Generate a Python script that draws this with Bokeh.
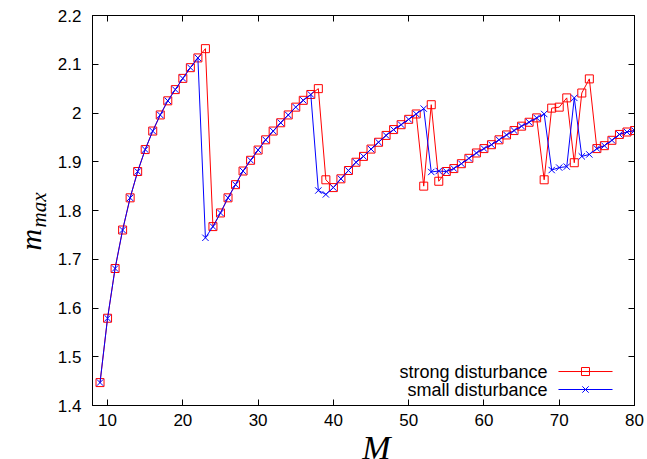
import math
from bokeh.plotting import figure
from bokeh.layouts import row, column
from bokeh.models import FixedTicker, LinearAxis, Label, Range1d
from bokeh.core.properties import value
from bokeh.embed import file_html
from bokeh.resources import INLINE

# ---------------- data ----------------
M = list(range(9, 81))

strong = [1.447, 1.579, 1.681, 1.760, 1.826, 1.880, 1.925, 1.963, 1.996, 2.025,
          2.048, 2.071, 2.093, 2.113, 2.132, 1.767, 1.795, 1.826, 1.853, 1.881,
          1.903, 1.924, 1.945, 1.963, 1.980, 1.996, 2.012, 2.026, 2.038, 2.050,
          1.863, 1.847, 1.865, 1.882, 1.899, 1.911, 1.926, 1.940, 1.954, 1.966,
          1.976, 1.987, 1.998, 1.850, 2.017, 1.860, 1.880, 1.886, 1.896, 1.907,
          1.918, 1.927, 1.935, 1.945, 1.955, 1.964, 1.973, 1.981, 1.990, 1.863,
          2.010, 2.012, 2.031, 1.898, 2.041, 2.070, 1.927, 1.933, 1.944, 1.956,
          1.961, 1.964]

small = [1.447, 1.579, 1.681, 1.760, 1.826, 1.880, 1.925, 1.963, 1.996, 2.025,
         2.048, 2.071, 2.093, 2.113, 1.744, 1.767, 1.795, 1.826, 1.853, 1.881,
         1.903, 1.924, 1.945, 1.963, 1.980, 1.996, 2.012, 2.026, 2.038, 1.841,
         1.833, 1.847, 1.865, 1.882, 1.899, 1.911, 1.926, 1.940, 1.954, 1.966,
         1.976, 1.987, 1.998, 2.009, 1.879, 1.881, 1.880, 1.886, 1.896, 1.907,
         1.918, 1.927, 1.935, 1.945, 1.955, 1.964, 1.973, 1.981, 1.990, 1.998,
         1.883, 1.888, 1.890, 2.031, 1.911, 1.915, 1.927, 1.933, 1.944, 1.956,
         1.961, 1.964]

x_ticks = [10, 20, 30, 40, 50, 60, 70, 80]
y_ticks = [1.4, 1.5, 1.6, 1.7, 1.8, 1.9, 2.0, 2.1, 2.2]
y_tick_labels = ["1.4", "1.5", "1.6", "1.7", "1.8", "1.9", "2", "2.1", "2.2"]
series_names = ["strong disturbance", "small disturbance"]
x_label = "M"
y_label_main, y_label_sub = "m", "max"

# ---------------- styles ----------------
RED = "#ff0000"
BLUE = "#0000ff"
TICK_FONT = "Liberation Sans"
SERIF = "Liberation Serif"

# ---------------- main plot ----------------
p = figure(width=597, height=434, x_range=Range1d(8, 80), y_range=Range1d(1.4, 2.2),
           output_backend="svg", toolbar_location=None,
           min_border_left=42, min_border_right=13, min_border_top=15, min_border_bottom=29)
p.xgrid.visible = False
p.ygrid.visible = False
p.outline_line_color = "black"
p.outline_line_width = 1
p.background_fill_color = "white"
p.border_fill_color = "white"


def style_axis(ax, ticks, show_labels, standoff):
    ax.ticker = FixedTicker(ticks=ticks)
    ax.major_tick_in = 6
    ax.major_tick_out = 0
    ax.minor_tick_in = 0
    ax.minor_tick_out = 0
    ax.axis_line_color = "black"
    ax.major_tick_line_color = "black"
    ax.major_label_text_color = "black"
    ax.major_label_text_font = TICK_FONT
    ax.major_label_standoff = standoff
    if show_labels:
        ax.major_label_text_font_size = "17px"
    else:
        ax.major_label_text_font_size = "0px"
        ax.major_label_standoff = 0


style_axis(p.xaxis[0], x_ticks, True, 8)
style_axis(p.yaxis[0], y_ticks, True, 11)
p.yaxis[0].major_label_overrides = {t: s for t, s in zip(y_ticks, y_tick_labels)}

top_ax = LinearAxis()
style_axis(top_ax, x_ticks, False, 0)
p.add_layout(top_ax, "above")
right_ax = LinearAxis()
style_axis(right_ax, y_ticks, False, 0)
p.add_layout(right_ax, "right")

# legend samples (gnuplot style: text on the left, sample on the right)
leg_text_x = 68.44
leg_line_x0, leg_line_x1, leg_mark_x = 69.9, 77.08, 73.49
leg_y = [1.4697, 1.4328]
p.segment(x0=[leg_line_x0], y0=[leg_y[0]], x1=[leg_line_x1], y1=[leg_y[0]], color=RED, line_width=1)
p.scatter([leg_mark_x], [leg_y[0]], marker="square", size=8, fill_color=None, line_color=RED, line_width=1)
p.segment(x0=[leg_line_x0], y0=[leg_y[1]], x1=[leg_line_x1], y1=[leg_y[1]], color=BLUE, line_width=1)
p.scatter([leg_mark_x], [leg_y[1]], marker="x", size=9, color=BLUE, line_width=1)
p.text(x=[leg_text_x, leg_text_x], y=leg_y, text=series_names, text_align="right",
       text_baseline="middle", text_font=value(TICK_FONT), text_font_size="18px", text_color="black")

# series
p.line(M, strong, line_color=RED, line_width=1)
p.scatter(M, strong, marker="square", size=8, fill_color=None, line_color=RED, line_width=1)
p.line(M, small, line_color=BLUE, line_width=1)
p.scatter(M, small, marker="x", size=9, line_color=BLUE, line_width=1)

# ---------------- y-axis label strip (frame aligned with main frame) ----------------
q = figure(width=50, height=434, x_range=Range1d(0, 1), y_range=Range1d(0, 1),
           output_backend="svg", toolbar_location=None,
           x_axis_location=None, y_axis_location=None,
           min_border_left=0, min_border_right=0, min_border_top=0, min_border_bottom=0)
q.xgrid.visible = False
q.ygrid.visible = False
q.outline_line_color = None
q.add_layout(Label(x=29.9, y=155, x_units="screen", y_units="screen", text=y_label_main,
                   text_font=SERIF, text_font_style="italic", text_font_size="30px",
                   angle=math.pi / 2, text_align="left", text_baseline="middle",
                   text_color="black"))
q.add_layout(Label(x=38.9, y=178, x_units="screen", y_units="screen", text=y_label_sub,
                   text_font=SERIF, text_font_style="italic", text_font_size="21px",
                   angle=math.pi / 2, text_align="left", text_baseline="middle",
                   text_color="black"))

# ---------------- x-axis label strip ----------------
r = figure(width=647, height=25, x_range=Range1d(0, 1), y_range=Range1d(0, 1),
           output_backend="svg", toolbar_location=None,
           x_axis_location=None, y_axis_location=None,
           min_border_left=0, min_border_right=0, min_border_top=0, min_border_bottom=0)
r.xgrid.visible = False
r.ygrid.visible = False
r.outline_line_color = None
r.add_layout(Label(x=376, y=12.5, x_units="screen", y_units="screen", text=x_label,
                   text_font=SERIF, text_font_style="italic", text_font_size="34px",
                   text_align="center", text_baseline="middle", text_color="black"))

layout = column(row(q, p, spacing=0), r, spacing=0)
open("out.html", "w").write(file_html(layout, INLINE))
